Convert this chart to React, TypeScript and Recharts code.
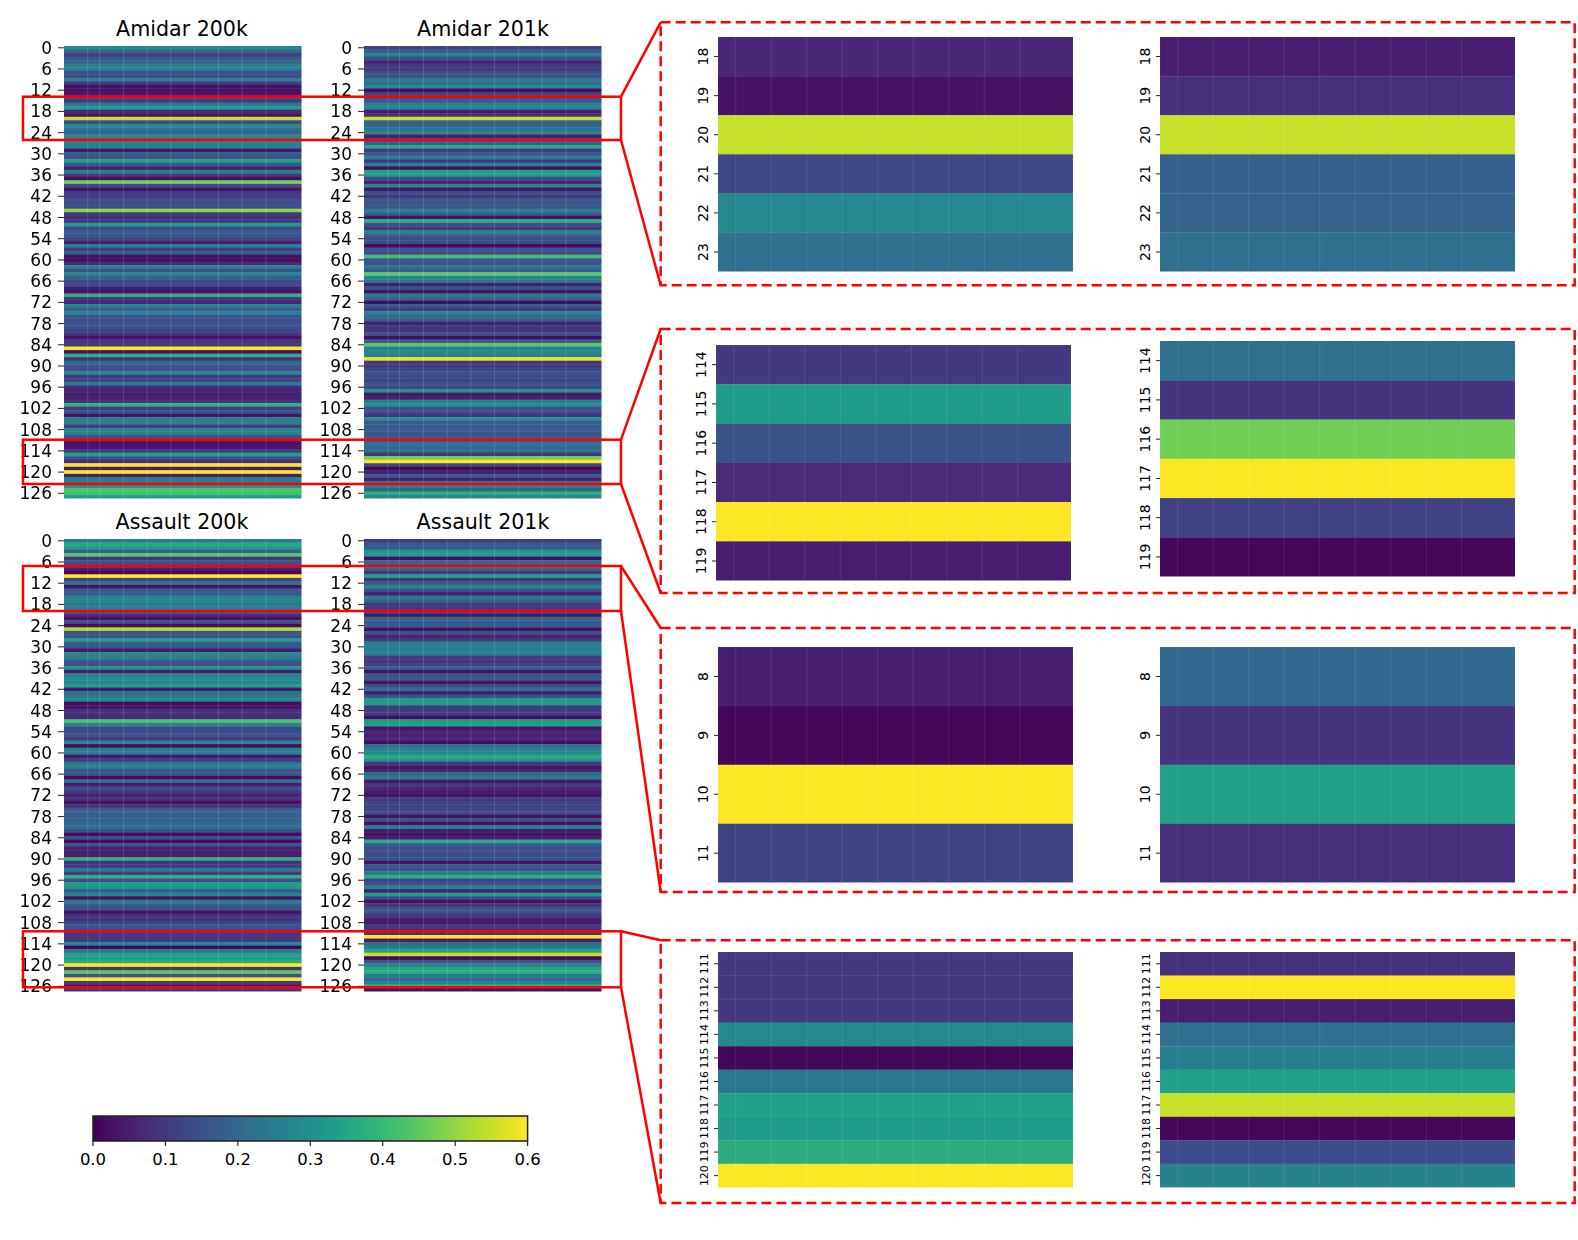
import React from "react";
import { ScatterChart, Scatter, XAxis, YAxis, ReferenceArea } from "recharts";

const amidar200k = [
  .28,.2,.11,.17,.19,.27,.25,.15,.13,.27,
  .1,.03,.03,.04,.14,.1,.24,.33,.065,.03,
  .55,.13,.28,.22,.18,.28,.24,.27,.26,.04,
  .17,.15,.34,.17,.05,.27,.1,.02,.47,.13,
  .03,.1,.11,.14,.14,.14,.5,.1,.08,.09,
  .33,.13,.17,.16,.13,.05,.27,.11,.18,.03,
  .02,.07,.27,.15,.27,.19,.13,.14,.05,.03,
  .38,.1,.06,.26,.18,.27,.16,.14,.16,.15,
  .12,.09,.03,.09,.1,.6,.03,.38,.08,.2,
  .16,.15,.27,.1,.12,.26,.07,.06,.05,.05,
  .08,.38,.1,.15,.03,.25,.27,.1,.28,.27,
  .15,.05,.03,.04,.1,.33,.15,.07,.6,.05,
  .6,.05,.27,.24,.3,.43,.42,.33,
];
const amidar201k = [
  .12,.18,.27,.15,.06,.1,.1,.15,.14,.24,
  .2,.28,.02,.12,.14,.17,.27,.27,.05,.08,
  .55,.18,.19,.22,.28,.05,.16,.18,.36,.1,
  .17,.27,.09,.27,.02,.33,.33,.14,.06,.28,
  .03,.15,.09,.17,.16,.16,.27,.17,.03,.38,
  .15,.09,.27,.18,.14,.15,.02,.15,.14,.42,
  .16,.15,.22,.17,.45,.27,.24,.05,.15,.03,
  .24,.2,.02,.17,.1,.27,.2,.17,.05,.1,
  .09,.15,.02,.17,.45,.27,.28,.27,.58,.1,
  .1,.13,.15,.14,.12,.16,.13,.3,.04,.05,
  .26,.3,.14,.14,.09,.3,.17,.17,.18,.16,
  .17,.17,.22,.2,.22,.09,.47,.6,.12,.01,
  .05,.18,.05,.25,.27,.18,.38,.28,
];
const assault200k = [
  .26,.36,.33,.18,.45,.09,.15,.15,.05,.01,
  .6,.12,.23,.03,.17,.17,.27,.27,.24,.26,
  .17,.08,.03,.16,.02,.53,.16,.15,.33,.17,
  .15,.04,.28,.27,.17,.14,.3,.05,.27,.28,
  .28,.34,.04,.22,.25,.28,.02,.03,.08,.08,
  .07,.43,.28,.13,.14,.16,.1,.28,.02,.25,
  .27,.04,.1,.24,.26,.15,.16,.02,.22,.05,
  .14,.1,.06,.09,.03,.08,.18,.19,.18,.18,
  .2,.22,.15,.02,.15,.02,.15,.05,.05,.05,
  .38,.08,.1,.24,.1,.38,.14,.33,.32,.17,
  .27,.03,.26,.17,.15,.03,.09,.08,.12,.16,
  .14,.1,.1,.1,.28,.01,.24,.34,.33,.37,
  .6,.09,.45,.15,.6,.1,.03,.1,
];
const assault201k = [
  .1,.17,.17,.31,.32,.02,.2,.19,.2,.09,
  .34,.08,.17,.27,.14,.05,.25,.18,.1,.09,
  .15,.04,.2,.17,.18,.02,.15,.06,.1,.26,
  .26,.26,.25,.11,.09,.12,.18,.03,.16,.17,
  .03,.14,.22,.05,.16,.33,.33,.1,.11,.1,
  .02,.33,.34,.03,.06,.05,.07,.02,.22,.27,
  .28,.37,.3,.1,.03,.06,.22,.26,.04,.1,
  .06,.05,.03,.1,.12,.12,.13,.14,.03,.15,
  .03,.27,.05,.03,.05,.36,.17,.14,.15,.14,
  .15,.03,.17,.15,.25,.38,.12,.15,.27,.05,
  .33,.14,.03,.1,.16,.15,.1,.05,.04,.1,
  .09,.08,.6,.05,.22,.26,.34,.55,.01,.14,
  .27,.35,.38,.25,.2,.27,.38,.03,
];

const viridisStops = ["#440154","#482878","#3e4989","#31688e","#26828e","#1f9e89","#35b779","#6ece58","#b5de2b","#fde725"];
const colorbarTicks = [0, 0.1, 0.2, 0.3, 0.4, 0.5, 0.6];
const mainTicks = [0,6,12,18,24,30,36,42,48,54,60,66,72,78,84,90,96,102,108,114,120,126];
const mainLines = [1, 1.5, 2.5, 3.5, 4.5, 5.5, 6.5, 7.5, 8.5];
const insetLines = [0.5, 1.5, 2.5, 3.5, 4.5, 5.5, 6.5, 7.5, 8.5];
const FONT = "DejaVu Sans";
const VMAX = 0.6;

function viridis(v: number) {
  const t = Math.max(0, Math.min(1, v / VMAX)) * (viridisStops.length - 1);
  const i = Math.min(viridisStops.length - 2, Math.floor(t));
  const f = t - i;
  const p = (s: string, k: number) => parseInt(s.slice(1 + 2 * k, 3 + 2 * k), 16);
  const c = [0, 1, 2].map((k) => Math.round(p(viridisStops[i], k) * (1 - f) + p(viridisStops[i + 1], k) * f));
  return `rgb(${c[0]},${c[1]},${c[2]})`;
}

type HeatProps = {
  values: number[]; start: number; count: number; left: number; top: number; w: number; h: number;
  ticks: number[]; fontSize: number; tickLen: number; rotate?: boolean; lines: number[]; lineOpacity: number; sep?: boolean; blur?: number;
};

function Heat({ values, start, count, left, top, w, h, ticks, fontSize, tickLen, rotate, lines, lineOpacity, sep, blur }: HeatProps) {
  const AX = 60, PAD = 12;
  const band = h / count;
  const data = values.slice(start, start + count).map((v, i) => ({ x: 5, y: start + i + 0.5, color: viridis(v) }));
  const lineData = lines.map((x) => ({ x, y: start + count / 2 }));
  const shape = (p: any) => (
    <rect x={p.cx - w / 2} y={p.cy - band / 2} width={w} height={band + 0.4} fill={p.payload.color}
      stroke={sep ? "rgba(255,255,255,0.05)" : "none"} strokeWidth={sep ? 1 : 0} />
  );
  const lineShape = (p: any) => (
    <line x1={p.cx} x2={p.cx} y1={p.cy - h / 2} y2={p.cy + h / 2} stroke="#fff" strokeOpacity={lineOpacity} strokeWidth={1} />
  );
  const rotTick = (p: any) => (
    <text x={p.x} y={p.y} transform={`rotate(-90 ${p.x} ${p.y})`} textAnchor="middle" dy={-1} fontSize={fontSize} fontFamily={FONT} fill="#000">
      {p.payload.value - 0.5}
    </text>
  );
  return (
    <div style={{ position: "absolute", left: left - AX, top: top - PAD, filter: blur ? `blur(${blur}px)` : undefined }}>
      <ScatterChart width={w + AX + 2} height={h + 2 * PAD} margin={{ top: PAD, bottom: PAD, left: 0, right: 2 }}>
        <XAxis type="number" dataKey="x" domain={[0, 10]} hide />
        <YAxis type="number" dataKey="y" width={AX} reversed domain={[start, start + count]} allowDataOverflow
          ticks={ticks.map((t) => t + 0.5)} interval={0} axisLine={false} tickSize={tickLen} tickMargin={rotate ? 5 : 6}
          tickLine={{ stroke: "#222", strokeWidth: 1 }}
          tickFormatter={(v: number) => String(v - 0.5)}
          tick={rotate ? rotTick : { fontSize, fontFamily: FONT, fill: "#000" }} />
        <Scatter data={data} isAnimationActive={false} shape={shape} />
        <Scatter data={lineData} isAnimationActive={false} shape={lineShape} />
      </ScatterChart>
    </div>
  );
}

function Colorbar() {
  const W = 434.6, H = 25, L = 92.7, T = 1115.7, PADX = 24;
  const anchor = colorbarTicks.map((x) => ({ x, y: 0.5 }));
  return (
    <div style={{ position: "absolute", left: L - PADX, top: T - 2 }}>
      <ScatterChart width={W + 2 * PADX} height={H + 42} margin={{ top: 2, bottom: 0, left: PADX, right: PADX }}>
        <defs>
          <linearGradient id="vir" x1="0" x2="1" y1="0" y2="0">
            {viridisStops.map((c, i) => (
              <stop key={c} offset={i / (viridisStops.length - 1)} stopColor={c} />
            ))}
          </linearGradient>
        </defs>
        <XAxis type="number" dataKey="x" domain={[0, VMAX]} ticks={colorbarTicks} interval={0} height={40}
          axisLine={false} tickSize={5} tickMargin={7} tickLine={{ stroke: "#222", strokeWidth: 1.2 }}
          tickFormatter={(v: number) => v.toFixed(1)}
          tick={{ fontSize: 16.5, fontFamily: FONT, fill: "#000" }} />
        <YAxis type="number" dataKey="y" domain={[0, 1]} hide />
        <Scatter data={anchor} isAnimationActive={false} shape={() => <g />} />
        <ReferenceArea x1={0} x2={VMAX} y1={0} y2={1} fill="url(#vir)" fillOpacity={1} stroke="#222" strokeWidth={1.5} ifOverflow="visible" />
      </ScatterChart>
    </div>
  );
}

const titles = [
  { text: "Amidar 200k", x: 182, y: 36 },
  { text: "Amidar 201k", x: 483, y: 36 },
  { text: "Assault 200k", x: 182, y: 529 },
  { text: "Assault 201k", x: 483, y: 529 },
];

const zooms = [
  { rt: 96.7, rb: 140, dt: 22.3, db: 285.3 },
  { rt: 439.7, rb: 484, dt: 329, db: 593 },
  { rt: 566, rb: 611, dt: 628, db: 892 },
  { rt: 931.3, rb: 987.3, dt: 940.3, db: 1203 },
];

const insets = [
  { a: amidar200k, b: amidar201k, start: 18, count: 6, fs: 14, la: 717.7, ta: 36.7, lb: 1159.5, tb: 36.7, h: 234.6 },
  { a: amidar200k, b: amidar201k, start: 114, count: 6, fs: 14, la: 715.6, ta: 345, lb: 1159.5, tb: 341, h: 235.6 },
  { a: assault200k, b: assault201k, start: 8, count: 4, fs: 14, la: 717.7, ta: 647, lb: 1159.5, tb: 647, h: 235.6 },
  { a: assault200k, b: assault201k, start: 111, count: 10, fs: 11, la: 717.7, ta: 952.3, lb: 1159.5, tb: 952.3, h: 235.4 },
];

export default function App() {
  const rows = amidar200k.length;
  const seq = (s: number, n: number) => Array.from({ length: n }, (_, i) => s + i);
  const main = { start: 0, count: rows, w: 237.5, h: 452.6, ticks: mainTicks, fontSize: 17, tickLen: 6, lines: mainLines, lineOpacity: 0.14, blur: 0.45 };
  return (
    <div style={{ position: "absolute", left: 0, top: 0, width: 1578, height: 1240, background: "#fff", overflow: "hidden" }}>
      <Heat values={amidar200k} left={63.5} top={46} {...main} />
      <Heat values={amidar201k} left={364.3} top={46} {...main} />
      <Heat values={assault200k} left={63.5} top={539} {...main} />
      <Heat values={assault201k} left={364.3} top={539} {...main} />
      {insets.map((n, i) => (
        <React.Fragment key={i}>
          <Heat values={n.a} start={n.start} count={n.count} left={n.la} top={n.ta} w={355} h={n.h} ticks={seq(n.start, n.count)} fontSize={n.fs} tickLen={4} rotate lines={insetLines} lineOpacity={0.1} sep />
          <Heat values={n.b} start={n.start} count={n.count} left={n.lb} top={n.tb} w={355} h={n.h} ticks={seq(n.start, n.count)} fontSize={n.fs} tickLen={4} rotate lines={insetLines} lineOpacity={0.1} sep />
        </React.Fragment>
      ))}
      <Colorbar />
      <svg width={1578} height={1240} style={{ position: "absolute", left: 0, top: 0, pointerEvents: "none" }}>
        {titles.map((t) => (
          <text key={t.text} x={t.x} y={t.y} textAnchor="middle" fontSize={20.6} fontFamily={FONT} fill="#000">{t.text}</text>
        ))}
        {zooms.map((z, i) => (
          <g key={i} fill="none" stroke="#ff0000">
            <rect x={23} y={z.rt} width={598} height={z.rb - z.rt} strokeWidth={2.5} />
            <line x1={621} y1={z.rt} x2={660.7} y2={z.dt} strokeWidth={2.5} />
            <line x1={621} y1={z.rb} x2={660.7} y2={z.db} strokeWidth={2.5} />
            <rect x={660.7} y={z.dt} width={914} height={z.db - z.dt} strokeWidth={2.5} strokeDasharray="10 5" />
          </g>
        ))}
      </svg>
    </div>
  );
}
